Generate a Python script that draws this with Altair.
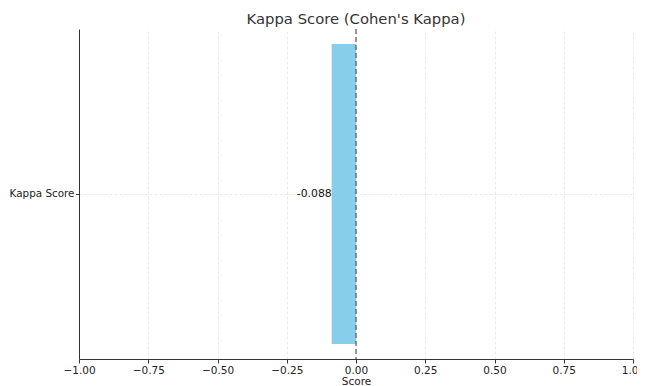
import altair as alt
import pandas as pd

categories = ["Kappa Score"]
scores = [-0.088]
labels = ["-0.088"]
zero_line = [0.0]

df = pd.DataFrame({"metric": categories, "score": scores, "label": labels})
zdf = pd.DataFrame({"x": zero_line})

font = "DejaVu Sans"

xscale = alt.Scale(domain=[-1, 1], nice=False, zero=False)
yscale = alt.Scale(paddingInner=0, paddingOuter=0.05)

xaxis = alt.Axis(
    values=[-1, -0.75, -0.5, -0.25, 0, 0.25, 0.5, 0.75, 1],
    format=".2f",
    title="Score",
    grid=True,
    gridColor="#e6e6e6",
    gridDash=[3, 2],
    gridWidth=0.8,
    domainColor="#333333",
    tickColor="#333333",
    tickSize=4,
    labelFontSize=10.5,
    labelColor="#222222",
    titleFontSize=10.5,
    titleFontWeight="normal",
    titleColor="#222222",
    titlePadding=1,
    labelPadding=2,
    labelFont=font,
    titleFont=font,
    labelFlush=False,
)
yaxis = alt.Axis(
    title=None,
    grid=True,
    gridColor="#e6e6e6",
    gridDash=[3, 2],
    gridWidth=0.8,
    domainColor="#333333",
    tickColor="#333333",
    tickSize=3.5,
    labelFontSize=10.4,
    labelColor="#222222",
    labelFont=font,
    labelPadding=1.5,
)

bars = alt.Chart(df).mark_bar(color="#87ceeb").encode(
    x=alt.X("score:Q", scale=xscale, axis=xaxis),
    x2=alt.datum(0),
    y=alt.Y("metric:N", scale=yscale, axis=yaxis),
)

text = alt.Chart(df).mark_text(
    align="right", baseline="middle", fontSize=10.8, font=font, color="#111111", dx=0
).encode(
    x=alt.X("score:Q", scale=xscale),
    y=alt.Y("metric:N", scale=yscale),
    text="label:N",
)

rule = alt.Chart(zdf).mark_rule(color="#555555", strokeDash=[5, 3], strokeWidth=1.2).encode(
    x=alt.X("x:Q", scale=xscale)
)

chart = alt.layer(bars, rule, text).properties(
    width=554,
    height=330,
    title=alt.TitleParams(
        "Kappa Score (Cohen's Kappa)",
        fontSize=14.8,
        font=font,
        fontWeight="normal",
        color="#333333",
        anchor="middle",
        offset=2,
    ),
    autosize=alt.AutoSizeParams(type="none"),
    padding={"left": 71, "top": 21, "right": 4, "bottom": 30},
).configure_view(stroke=None)

chart.save("out.html", embed_options={"renderer": "svg", "actions": False})
